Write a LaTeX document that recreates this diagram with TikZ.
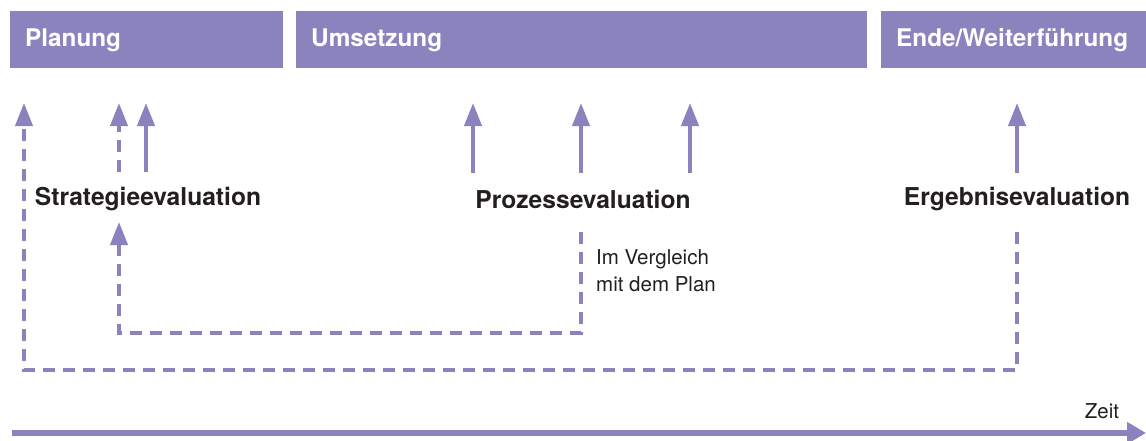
\documentclass[tikz,border=0pt]{standalone}
\usepackage{fontspec}
\setmainfont{TeX Gyre Heros}
\usetikzlibrary{arrows.meta}
\definecolor{lila}{RGB}{138,131,190}
\definecolor{ink}{RGB}{35,31,32}
\tikzset{
  phase/.style={fill=lila, draw=none, minimum height=57pt, inner sep=0pt, anchor=north west},
  phasetxt/.style={text=white, font=\fontsize{24.3}{28}\selectfont\bfseries, inner sep=0pt, anchor=west},
  evaltxt/.style={text=ink, font=\fontsize{24.6}{28}\selectfont\bfseries, inner sep=0pt},
  small/.style={text=ink, font=\fontsize{20.5}{27}\selectfont, inner sep=0pt},
  upar/.style={draw=lila, line width=4pt, -{Triangle[length=23pt,width=17pt]}},
  dashar/.style={draw=lila, line width=4pt, dash pattern=on 12pt off 8pt, line join=miter, -{Triangle[length=23pt,width=17pt]}},
  timear/.style={draw=lila, line width=6pt, -{Triangle[length=19pt,width=21pt]}}
}
\begin{document}
\begin{tikzpicture}[x=1pt,y=-1pt]
\useasboundingbox (0,0) rectangle (1146,440);
% phase bars
\node[phase, minimum width=273pt] (plan) at (10,11) {};
\node[phase, minimum width=571pt] (ums) at (296,11) {};
\node[phase, minimum width=266pt] (ende) at (881,11) {};
\node[phasetxt] (plantxt) at (25,40) {Planung};
\node[phasetxt] (umstxt) at (311,40) {Umsetzung};
\node[phasetxt] (endetxt) at (896,40) {Ende/Weiterführung};
% evaluation labels
\node[evaltxt] (strat) at (148,199) {Strategieevaluation};
\node[evaltxt] (proz) at (583,199) {Prozessevaluation};
\node[evaltxt] (erg) at (1017,199) {Ergebnisevaluation};
\node[small, anchor=west, align=left] (vgl) at (596,271) {Im Vergleich\\mit dem Plan};
\node[small] (zeit) at (1102,411) {Zeit};
% coordinates
\coordinate (a1t) at (24,103);
\coordinate (a2t) at (119,103);
\coordinate (a2b) at (119,172);
\coordinate (a3t) at (146,103);
\coordinate (a3b) at (146,172);
\coordinate (p1t) at (473,103);
\coordinate (p1b) at (473,173);
\coordinate (p2t) at (581,103);
\coordinate (p2b) at (581,173);
\coordinate (p3t) at (690,103);
\coordinate (p3b) at (690,173);
\coordinate (e1t) at (1017,103);
\coordinate (e1b) at (1017,173);
\coordinate (st2) at (119,222);
\coordinate (pz2) at (581,232);
\coordinate (eg2) at (1017,232);
\coordinate (t0) at (12,433);
\coordinate (t1) at (1146,433);
% solid arrows
\draw[upar] (a3b) -- (a3t);
\draw[upar] (p1b) -- (p1t);
\draw[upar] (p2b) -- (p2t);
\draw[upar] (p3b) -- (p3t);
\draw[upar] (e1b) -- (e1t);
% dashed arrows
\draw[dashar] (a2b) -- (a2t);
\draw[dashar] (pz2) |- (119,333) -- (st2);
\draw[dashar] (eg2) |- (24,370) -- (a1t);
% time axis
\draw[timear] (t0) -- (t1);
\end{tikzpicture}
\end{document}
